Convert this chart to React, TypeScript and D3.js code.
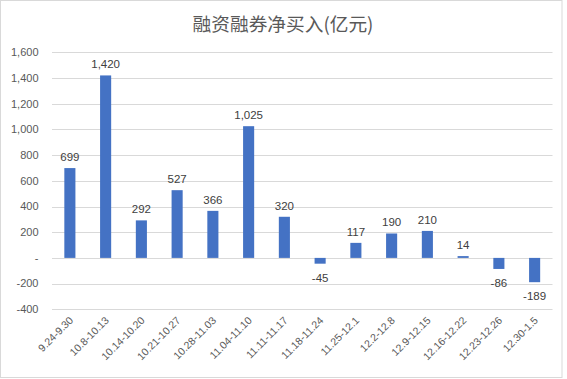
import React from "react";
import * as d3 from "d3";

const categories = ["9.24-9.30","10.8-10.13","10.14-10.20","10.21-10.27","10.28-11.03","11.04-11.10","11.11-11.17","11.18-11.24","11.25-12.1","12.2-12.8","12.9-12.15","12.16-12.22","12.23-12.26","12.30-1.5"];
const values = [699, 1420, 292, 527, 366, 1025, 320, -45, 117, 190, 210, 14, -86, -189];
const yTicks = [-400, -200, 0, 200, 400, 600, 800, 1000, 1200, 1400, 1600];
const title = "融资融券净买入(亿元)";

const W = 567, H = 379;
const FONT = "'Liberation Sans', Arial, sans-serif";

export default function App() {
  const x = d3.scaleBand<string>().domain(categories).range([52, 552.5]).paddingInner(0.69).paddingOuter(0.345);
  const y = d3.scaleLinear().domain([-400, 1600]).range([309.3, 52.3]);
  const f = d3.format(",");
  const fmt = (v: number) => f(v).replace(/\u2212/g, "-");
  const bw = x.bandwidth();
  return (
    <svg width={W} height={H} style={{ position: "absolute", left: 0, top: 0 }}>
      <rect x={0} y={0} width={W} height={H} fill="#fff" />
      <rect x={0.5} y={0.5} width={561.5} height={377} fill="#fff" stroke="#d9d9d9" />
      <text x={283} y={31} textAnchor="middle" fontFamily="'Noto Sans CJK SC', sans-serif" fontSize={18.7} fill="#595959">{title}</text>
      {yTicks.map((t) => (
        <g key={t}>
          <line x1={52} x2={552.5} y1={Math.round(y(t)) + 0.5} y2={Math.round(y(t)) + 0.5} stroke="#d9d9d9" strokeWidth={1} />
          <text x={38.5} y={y(t)} dy="0.35em" textAnchor="end" fontFamily={FONT} fontSize={11} fill="#595959">{t === 0 ? "-" : fmt(t)}</text>
        </g>
      ))}
      {values.map((v, i) => {
        const c = categories[i];
        const x0 = x(c)!;
        const top = Math.min(y(v), y(0));
        const h = Math.abs(y(v) - y(0));
        return (
          <g key={c}>
            <rect x={x0} y={top} width={bw} height={h} fill="#4472C4" />
            <text x={x0 + bw / 2} y={v >= 0 ? y(v) - 7 : y(v) + 18} textAnchor="middle" fontFamily={FONT} fontSize={11.5} fill="#404040">{fmt(v)}</text>
          </g>
        );
      })}
      {categories.map((c) => {
        const cx = x(c)! + bw / 2 + 4;
        const cy = 321;
        return (
          <text key={c} x={cx} y={cy} transform={`rotate(-45 ${cx} ${cy})`} textAnchor="end" fontFamily={FONT} fontSize={10.5} fill="#595959">{c}</text>
        );
      })}
    </svg>
  );
}
